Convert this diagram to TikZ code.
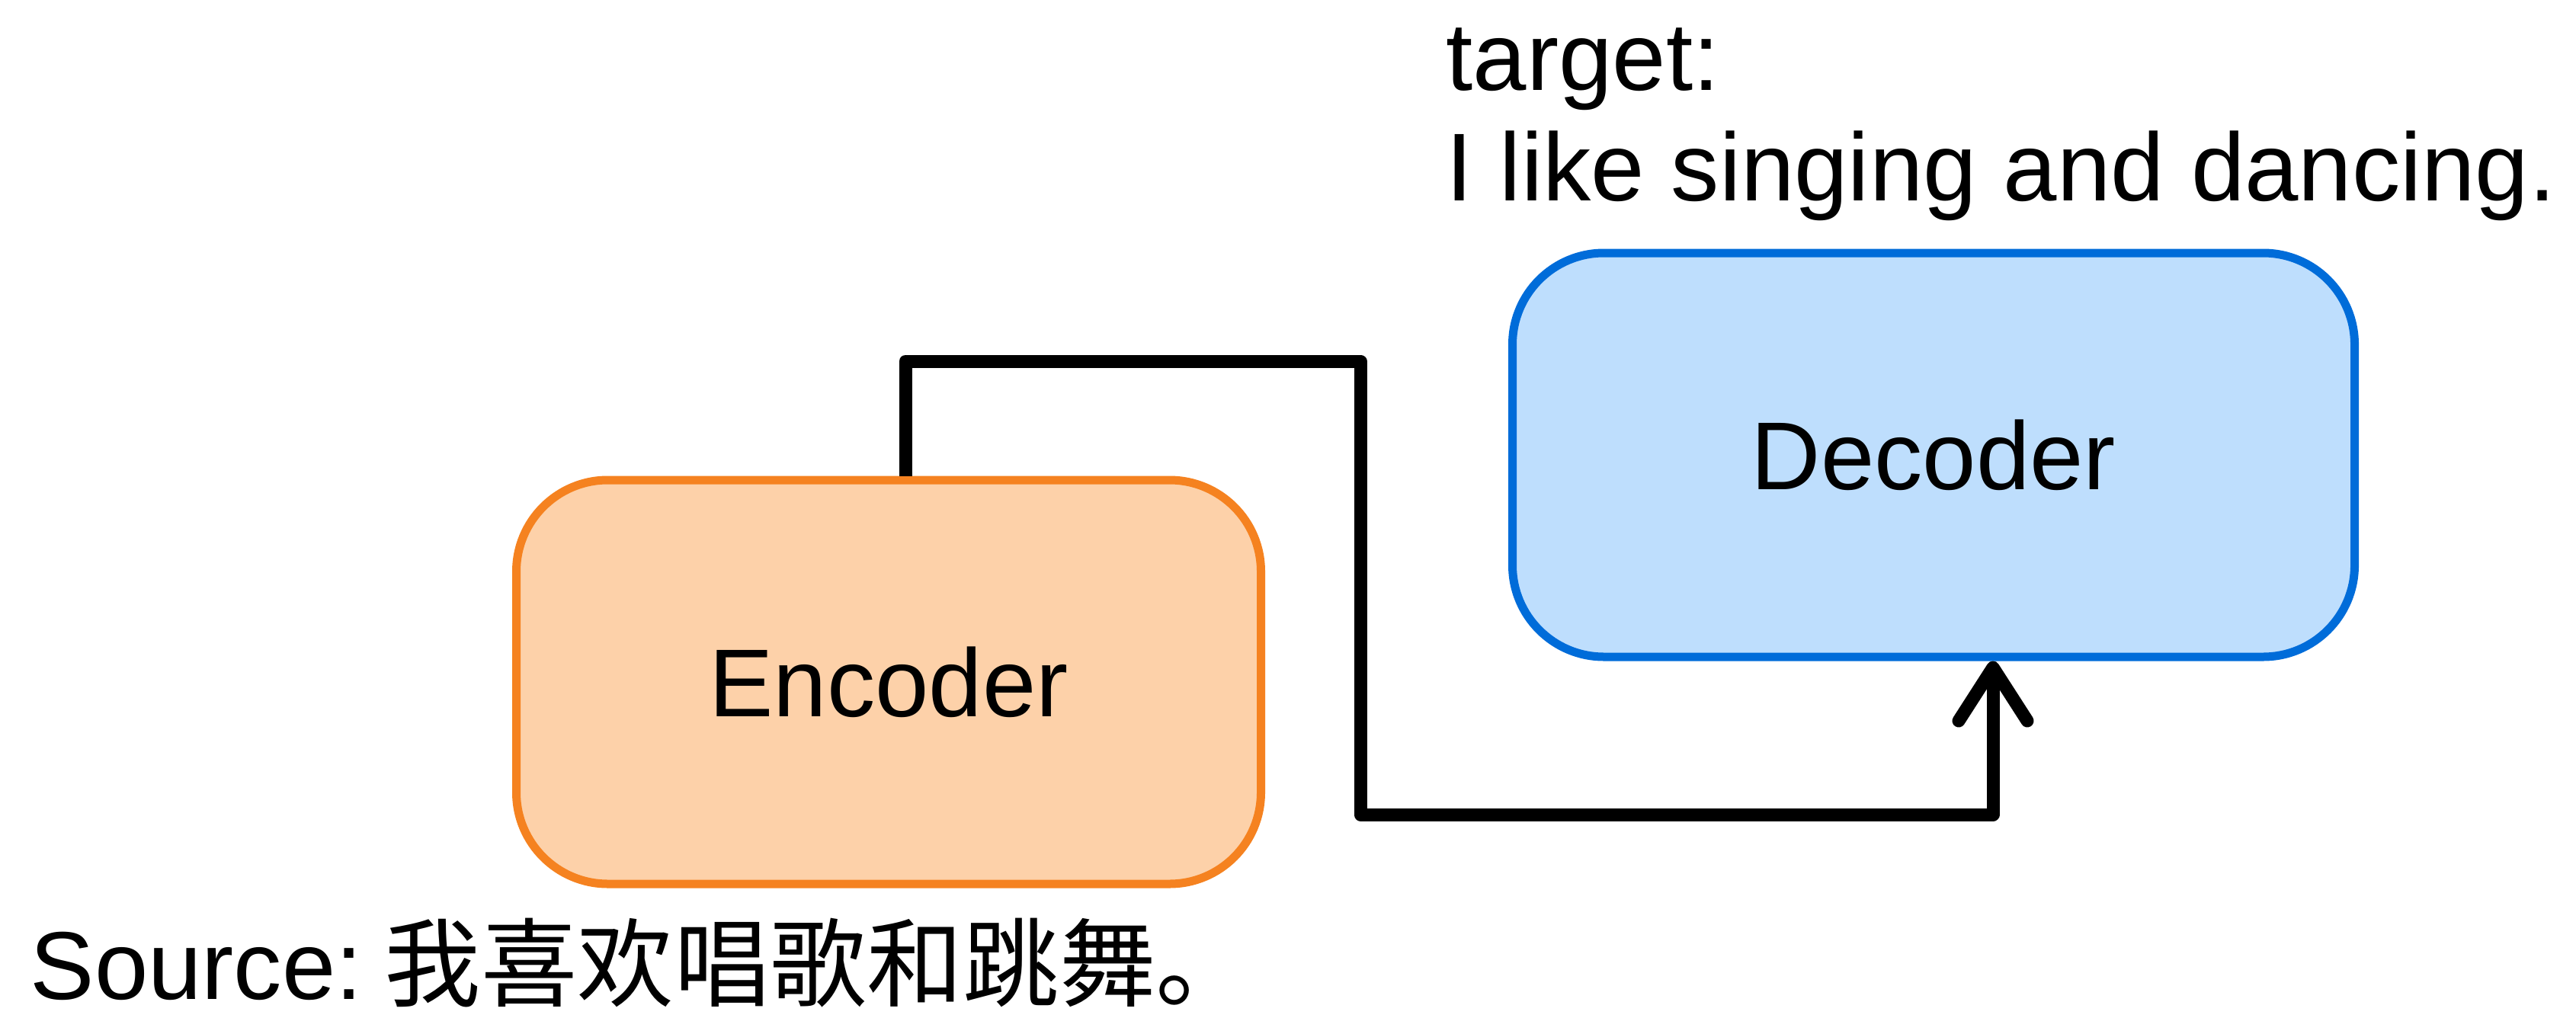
\documentclass[tikz,border=0pt]{standalone}
\usepackage{fontspec}
\setmainfont{Liberation Sans}
\newfontfamily\cjkfont{Noto Sans CJK SC}
\usetikzlibrary{positioning, arrows.meta}
\definecolor{encfill}{RGB}{253,209,169}
\definecolor{encline}{RGB}{245,130,32}
\definecolor{decfill}{RGB}{190,222,253}
\definecolor{decline}{RGB}{0,108,217}

\begin{document}
\begin{tikzpicture}[>={Straight Barb[round,length=7mm,width=9mm]},
        every node/.style = {font=\fontsize{36}{41}\selectfont},
        block/.style = {rectangle, rounded corners=1.2cm, line width=1.1mm, minimum width=9.77cm, minimum height=5.3cm},
        encoder/.style = {block, draw=encline, fill=encfill},
        decoder/.style = {block, draw=decline, fill=decfill, minimum width=11.05cm},
        txt/.style = {inner sep=0pt, align=left},
        link/.style = {line width=1.7mm, line join=round},
        ]
        \useasboundingbox (0,0) rectangle (33.8,13.35);
        \node [encoder] (enc) at (11.66,4.40) {Encoder};
        \node [decoder, right=3.19cm of enc, yshift=2.98cm] (dec) {Decoder};
        \node [txt, anchor=base west] (src) at (0.39,0.24) {Source:\kern-0.05em\ {\cjkfont 我喜欢唱歌和跳舞。}};
        \node [txt, anchor=base west] (tgt) at (18.97,10.72) {target:\\I like singing and dancing.};
        \coordinate (top) at (17.85,8.61);
        \coordinate (bot) at (17.85,2.66);

        \draw [link, ->] ([xshift=2.2mm]enc.north) |- (top) -- (bot) -| ([xshift=7.8mm]dec.south);
    \end{tikzpicture}
\end{document}
